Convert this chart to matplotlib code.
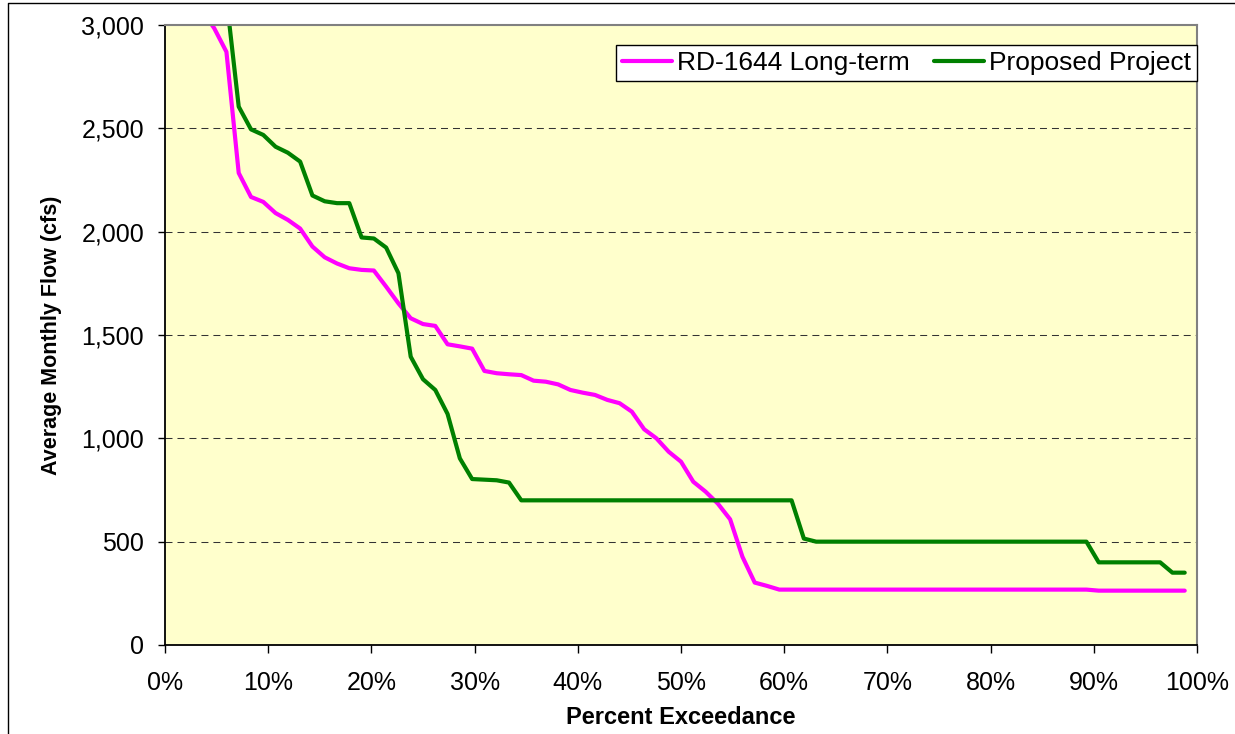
import numpy as np
import matplotlib.pyplot as plt
from matplotlib.lines import Line2D
from matplotlib.ticker import FuncFormatter

plt.rcParams['font.family'] = ['Liberation Sans', 'DejaVu Sans']

# ranks are plotted as exceedance = rank / 84
n_total = 84

# RD-1644 Long-term, ranks 3..83 (cfs)
rd_first_rank = 3
rd_flow = [3070, 2985, 2870, 2284, 2168, 2144, 2090, 2057, 2015, 1928,
           1876, 1846, 1823, 1815, 1812, 1734, 1653, 1581, 1553, 1544,
           1455, 1445, 1434, 1326, 1315, 1310, 1306, 1279, 1274, 1261,
           1234, 1221, 1210, 1186, 1170, 1129, 1044, 1000, 935, 887,
           790, 742, 684, 608, 427, 302, 286,
           268, 268, 268, 268, 268, 268, 268, 268, 268, 268, 268, 268, 268,
           268, 268, 268, 268, 268, 268, 268, 268, 268, 268, 268, 268, 268,
           263, 263, 263, 263, 263, 263, 263, 263]

# Proposed Project, ranks 5..83 (cfs)
pp_first_rank = 5
pp_flow = [3130, 2605, 2495, 2468, 2411, 2382, 2339, 2175, 2147, 2138,
           2138, 1972, 1967, 1923, 1799, 1395, 1286, 1234, 1118, 903,
           803, 800, 797, 786,
           700, 700, 700, 700, 700, 700, 700, 700, 700, 700, 700, 700,
           700, 700, 700, 700, 700, 700, 700, 700, 700, 700, 700,
           515,
           500, 500, 500, 500, 500, 500, 500, 500, 500, 500, 500, 500,
           500, 500, 500, 500, 500, 500, 500, 500, 500, 500, 500,
           400, 400, 400, 400, 400, 400,
           350, 350]

rd_x = (np.arange(len(rd_flow)) + rd_first_rank) / n_total * 100
pp_x = (np.arange(len(pp_flow)) + pp_first_rank) / n_total * 100

fig = plt.figure(figsize=(12.35, 7.34), dpi=100)
ax = fig.add_axes([165 / 1235, 1 - 645 / 734, 1032 / 1235, 620 / 734])
ax.set_facecolor('#FFFFCC')

ax.plot(rd_x, rd_flow, color='#FF00FF', lw=3, solid_capstyle='round',
        solid_joinstyle='round', label='RD-1644 Long-term')
ax.plot(pp_x, pp_flow, color='#008000', lw=3, solid_capstyle='round',
        solid_joinstyle='round', label='Proposed Project')

ax.set_xlim(0, 100)
ax.set_ylim(0, 3000)
ax.set_xticks(np.arange(0, 101, 10))
ax.set_yticks(np.arange(0, 3001, 500))
ax.xaxis.set_major_formatter(FuncFormatter(lambda v, p: f'{v:.0f}%'))
ax.yaxis.set_major_formatter(FuncFormatter(lambda v, p: f'{v:,.0f}'))

# dashed gridlines, skipping 0 and the top
for yv in range(500, 3000, 500):
    ax.axhline(yv, color='#333333', lw=0.75, ls=(0, (6.7, 4.8)), zorder=1)

ax.tick_params(axis='y', direction='out', length=5, width=1, pad=10, labelsize=18)
ax.tick_params(axis='x', direction='out', length=6, width=1, pad=13, labelsize=18)

for s in ['left', 'bottom']:
    ax.spines[s].set_color('black')
    ax.spines[s].set_linewidth(1.3)
for s in ['top', 'right']:
    ax.spines[s].set_color('#808080')
    ax.spines[s].set_linewidth(1.5)

ax.set_xlabel('Percent Exceedance', fontsize=17, fontweight='bold', labelpad=8)
ax.set_ylabel('Average Monthly Flow (cfs)', fontsize=15.5, fontweight='bold', labelpad=14)

leg = ax.legend(loc='upper right', bbox_to_anchor=(1.0, (645 - 45) / 620), ncol=2,
                fontsize=19, frameon=True, fancybox=False, shadow=False,
                borderpad=0.22, handlelength=1.9, handletextpad=0.2,
                columnspacing=0.9, borderaxespad=0)
leg.get_frame().set_edgecolor('black')
leg.get_frame().set_linewidth(1)
leg.get_frame().set_facecolor('white')
leg.get_frame().set_alpha(1)

# outer chart border (left and top edges visible)
fig.add_artist(Line2D([8 / 1235, 8 / 1235, 1], [0, 1 - 3 / 734, 1 - 3 / 734],
                      transform=fig.transFigure, color='black', lw=1))

fig.savefig('out.png', dpi=100, facecolor='white')
